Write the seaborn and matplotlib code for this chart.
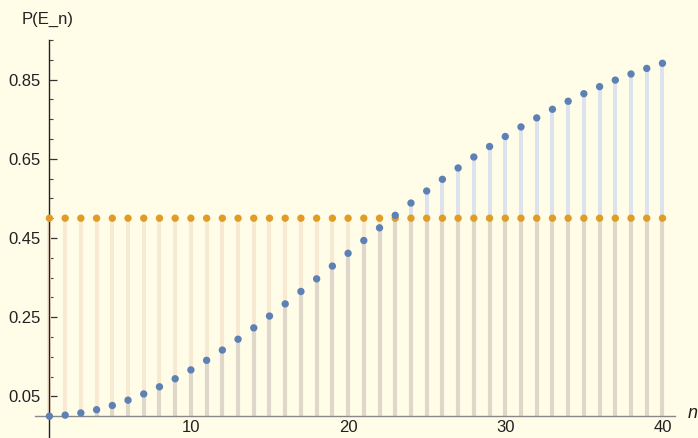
import numpy as np
import pandas as pd
import matplotlib
matplotlib.use('Agg')
import matplotlib.pyplot as plt
import seaborn as sns

# values (probability of a shared birthday among n people)
n_values = list(range(1, 41))
p_values = [0.0, 0.0027, 0.0082, 0.0164, 0.0271, 0.0405, 0.0562, 0.0743, 0.0946, 0.1169,
            0.1411, 0.1670, 0.1944, 0.2231, 0.2529, 0.2836, 0.3150, 0.3469, 0.3791, 0.4114,
            0.4437, 0.4757, 0.5073, 0.5383, 0.5687, 0.5982, 0.6269, 0.6545, 0.6810, 0.7063,
            0.7305, 0.7533, 0.7750, 0.7953, 0.8144, 0.8322, 0.8487, 0.8641, 0.8782, 0.8912]
half_values = [0.5] * 40

y_ticks = [0.05, 0.25, 0.45, 0.65, 0.85]
x_ticks = [10, 20, 30, 40]

df = pd.DataFrame({'n': n_values, 'p': p_values, 'half': half_values})
df['low'] = df[['p', 'half']].min(axis=1)

sns.set_style('white')
plt.rcParams['font.family'] = ['Liberation Sans', 'DejaVu Sans']

bg = '#fffce8'
fig = plt.figure(figsize=(6.98, 4.38), dpi=100, facecolor=bg)
ax = fig.add_axes([0.0501, 0.0, 0.917, 0.9087], facecolor=bg)

# filling to the axis
ax.vlines(df['n'], 0, df['half'], color='#f8e9d2', lw=2.9, zorder=1)
ax.vlines(df['n'], 0, df['p'], color='#dce3ec', lw=2.9, zorder=1)
ax.vlines(df['n'], 0, df['low'], color='#dfd8ca', lw=2.9, zorder=1.5)

sns.scatterplot(data=df, x='n', y='half', color='#e19c24', s=28, edgecolor='none',
                ax=ax, zorder=3, legend=False)
sns.scatterplot(data=df, x='n', y='p', color='#5e81b5', s=28, edgecolor='none',
                ax=ax, zorder=4, legend=False)

ax.set_xlim(0.08, 40.8)
ax.set_ylim(-0.055, 0.95)

for s in ['top', 'right']:
    ax.spines[s].set_visible(False)
ax.spines['left'].set_position(('data', 1))
ax.spines['bottom'].set_position(('data', 0))
ax.spines['left'].set_color('#222222')
ax.spines['bottom'].set_color('#888888')
ax.spines['left'].set_linewidth(1.0)
ax.spines['bottom'].set_linewidth(1.0)

ax.set_xticks(x_ticks)
ax.set_xticks(np.arange(2, 41, 2), minor=True)
ax.set_yticks(y_ticks)
ax.set_yticks(np.arange(0.10, 0.951, 0.05), minor=True)
ax.tick_params(axis='both', which='both', bottom=True, left=True)
ax.tick_params(axis='both', which='major', direction='in', length=5.5, width=0.9,
               color='#333333', labelsize=12, labelcolor='#222222')
ax.tick_params(axis='both', which='minor', direction='in', length=3, width=0.8,
               color='#444444')
ax.tick_params(axis='x', pad=3)
ax.tick_params(axis='y', pad=6)
ax.set_xlabel('')
ax.set_ylabel('')

fig.text(0.031, 0.955, 'P(E_n)', fontsize=12, color='#222222', ha='left', va='center')
fig.text(0.985, 0.056, 'n', fontsize=13, color='#222222', style='italic',
         ha='left', va='center')

fig.savefig('out.png', dpi=100, facecolor=bg)
